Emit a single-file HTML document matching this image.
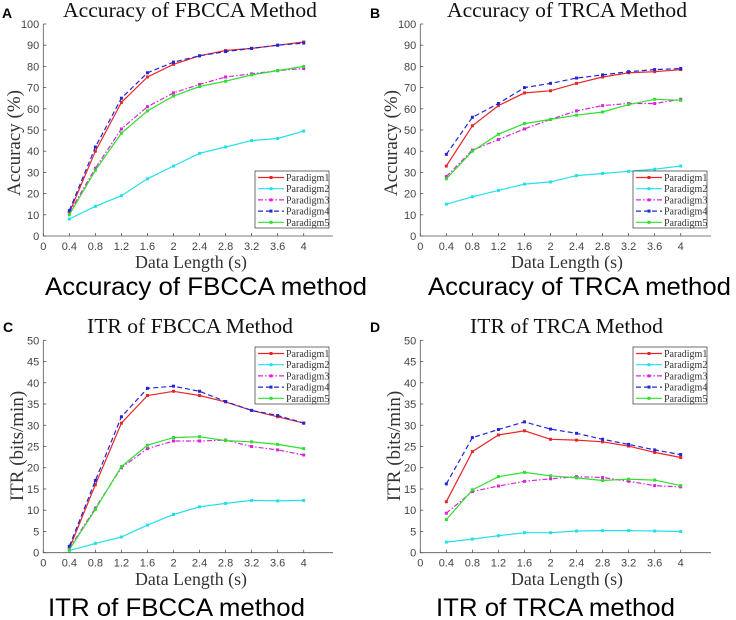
<!DOCTYPE html>
<html><head><meta charset="utf-8"><style>
html,body{margin:0;padding:0;background:#fff;}
svg{display:block;}
</style></head><body>
<svg id="fig" width="736" height="620" xmlns="http://www.w3.org/2000/svg"></svg>
<script>
const xCats = [0.4,0.8,1.2,1.6,2,2.4,2.8,3.2,3.6,4];
const xTickLabels = ['0','0.4','0.8','1.2','1.6','2','2.4','2.8','3.2','3.6','4'];
const seriesNames = ['Paradigm1','Paradigm2','Paradigm3','Paradigm4','Paradigm5'];
const accTicks = [0,10,20,30,40,50,60,70,80,90,100];
const itrTicks = [0,5,10,15,20,25,30,35,40,45,50];
const accFbP1 = [11,40,63,75,81,85,87.5,88.5,90,91.5];
const accFbP2 = [8,14,19,27,33,39,42,45,46,49.5];
const accFbP3 = [11,32,50.5,61,67.5,71.5,75,76.5,78,79];
const accFbP4 = [12,42,65,77,82,85,87,88.5,90,91];
const accFbP5 = [10,31,48.5,59,66,70.5,73,76,78,80];
const accTrP1 = [33,52,61.5,67.5,68.5,72,75,77,77.5,78.5];
const accTrP2 = [15,18.5,21.5,24.5,25.5,28.5,29.5,30.5,31.5,33];
const accTrP3 = [28,40.5,45.5,50.5,55,59,61.5,62.5,62.5,64.5];
const accTrP4 = [38.5,56,62.5,70,72,74.5,76,77.5,78.5,79];
const accTrP5 = [27,40,48,53,55,57,58.5,62,64.5,64];
const itrFbP1 = [1,16,30.5,37,38,37,35.5,33.5,32,30.5];
const itrFbP2 = [0.5,2.2,3.7,6.5,9,10.8,11.6,12.3,12.2,12.3];
const itrFbP3 = [1,10.5,20,24.5,26.3,26.3,26.5,25,24.2,23];
const itrFbP4 = [1.5,17,32,38.7,39.2,38,35.6,33.5,32.3,30.5];
const itrFbP5 = [0.7,10.2,20.3,25.3,27.1,27.3,26.4,26.1,25.5,24.5];
const itrTrP1 = [12,23.8,27.7,28.7,26.7,26.5,26.1,25.1,23.6,22.4];
const itrTrP2 = [2.5,3.2,4,4.7,4.7,5.1,5.2,5.2,5.1,5];
const itrTrP3 = [9.3,14.4,15.7,16.8,17.4,17.9,17.7,16.8,15.8,15.5];
const itrTrP4 = [16.2,27.1,29,30.8,29.1,28.1,26.7,25.5,24.2,23.1];
const itrTrP5 = [7.8,14.8,17.9,18.9,18.1,17.6,17,17.3,17.1,15.8];

const NS='http://www.w3.org/2000/svg';
const svg=document.getElementById('fig');
const colors=['#e8262a','#22e0ea','#dd22dd','#2525d8','#2ee02e'];
const dashes=['','','5,2,1.5,2','5,3',''];
function el(tag,attrs,parent){const e=document.createElementNS(NS,tag);for(const k in attrs)e.setAttribute(k,attrs[k]);(parent||svg).appendChild(e);return e;}
function txt(s,attrs,parent){const t=el('text',attrs,parent);t.textContent=s;return t;}

const panels=[
 {id:'a',letter:'A',x0:43.3,x4:303.7,xEnd:333,y0:236,yTop:24,yMax:100,ticks:accTicks,series:[accFbP1,accFbP2,accFbP3,accFbP4,accFbP5],
  title:'Accuracy of FBCCA Method',tx1:63,tx2:317,ty:17,ylab:'Accuracy (%)',ylx:14,yly:143,xlab1:135,xlab2:247,xly:268,cap:'Accuracy of FBCCA method',cx1:45,cx2:367,cy:295,leg:[255,171],lx:2,ly:12},
 {id:'b',letter:'B',x0:420.3,x4:680.7,xEnd:711,y0:236,yTop:24,yMax:100,ticks:accTicks,series:[accTrP1,accTrP2,accTrP3,accTrP4,accTrP5],
  title:'Accuracy of TRCA Method',tx1:447,tx2:687,ty:17,ylab:'Accuracy (%)',ylx:391,yly:143,xlab1:511,xlab2:623,xly:268,cap:'Accuracy of TRCA method',cx1:428,cx2:731,cy:295,leg:[633,171],lx:370,ly:12},
 {id:'c',letter:'C',x0:43.3,x4:303.7,xEnd:333,y0:552.7,yTop:340.3,yMax:50,ticks:itrTicks,series:[itrFbP1,itrFbP2,itrFbP3,itrFbP4,itrFbP5],
  title:'ITR of FBCCA Method',tx1:87,tx2:293,ty:333,ylab:'ITR (bits/min)',ylx:17,yly:446,xlab1:135,xlab2:247,xly:585,cap:'ITR of FBCCA method',cx1:48,cx2:305,cy:616,leg:[255,347],lx:3,ly:326},
 {id:'d',letter:'D',x0:420.3,x4:680.7,xEnd:711,y0:552.7,yTop:340.3,yMax:50,ticks:itrTicks,series:[itrTrP1,itrTrP2,itrTrP3,itrTrP4,itrTrP5],
  title:'ITR of TRCA Method',tx1:470,tx2:663,ty:333,ylab:'ITR (bits/min)',ylx:394,yly:446,xlab1:511,xlab2:623,xly:585,cap:'ITR of TRCA method',cx1:436,cx2:675,cy:616,leg:[633,347],lx:370,ly:326}
];

panels.forEach(p=>{
 const g=el('g',{});
 
 
 const xs=v=>p.x0+(p.x4-p.x0)*v/4;
 const ys=v=>p.y0-(p.y0-p.yTop)*v/p.yMax;
 const lab=txt(p.letter,{x:p.lx,y:p.ly+6,'font-family':'Liberation Sans, sans-serif','font-weight':'bold','font-size':14,fill:'#000'},g);
 
 const t=txt(p.title,{x:p.tx1,y:p.ty,textLength:p.tx2-p.tx1,lengthAdjust:'spacingAndGlyphs','font-family':'Liberation Serif, serif','font-size':21,fill:'#111'},g);
 
 // axes
 const ax=el('path',{d:`M${p.x0} ${p.yTop} V${p.y0} H${p.xEnd}`,stroke:'#555',fill:'none','stroke-width':0.8},g);
 
 p.ticks.forEach(v=>{
  el('line',{x1:p.x0,x2:p.x0+3,y1:ys(v),y2:ys(v),stroke:'#555','stroke-width':0.8},g);
  const tl=txt(String(v),{x:p.x0-4,y:ys(v)+4,'text-anchor':'end','font-family':'Liberation Sans, sans-serif','font-size':11,fill:'#444'},g);
  
 });
 xTickLabels.forEach((s,i)=>{
  const v=i*0.4;
  el('line',{x1:xs(v),x2:xs(v),y1:p.y0,y2:p.y0-3,stroke:'#555','stroke-width':0.8},g);
  const tl=txt(s,{x:xs(v),y:p.y0+14,'text-anchor':'middle','font-family':'Liberation Sans, sans-serif','font-size':11,fill:'#444'},g);
  
 });
 const yl=txt(p.ylab,{x:0,y:0,transform:`translate(${p.ylx+6},${p.yly}) rotate(-90)`,'text-anchor':'middle','font-family':'Liberation Serif, serif','font-size':19,fill:'#333'},g);
 
 const xl=txt('Data Length (s)',{x:p.xlab1,y:p.xly,textLength:p.xlab2-p.xlab1,lengthAdjust:'spacingAndGlyphs','font-family':'Liberation Serif, serif','font-size':18,fill:'#333'},g);
 
 // series
 p.series.forEach((vals,si)=>{
  const pts=vals.map((v,i)=>xs(xCats[i]).toFixed(1)+','+ys(v).toFixed(1)).join(' ');
  const pl=el('polyline',{points:pts,fill:'none',stroke:colors[si],'stroke-width':1.2},g);
  if(dashes[si])pl.setAttribute('stroke-dasharray',dashes[si]);
  
  
  vals.forEach((v,i)=>{
   const m=el('rect',{x:xs(xCats[i])-1.5,y:ys(v)-1.5,width:3,height:3,fill:colors[si]},g);
   
   
  });
 });
 // legend
 const [lx,ly]=p.leg;
 const lg=el('g',{},g);
 
 el('rect',{x:lx,y:ly,width:74,height:57,fill:'#fff',stroke:'#333','stroke-width':0.7},lg);
 seriesNames.forEach((n,si)=>{
  const yy=ly+6.5+si*11.2;
  const en=el('g',{},lg);
  
  const ln=el('line',{x1:lx+3,x2:lx+29,y1:yy,y2:yy,stroke:colors[si],'stroke-width':1.2},en);
  if(dashes[si])ln.setAttribute('stroke-dasharray',dashes[si]);
  el('rect',{x:lx+14.5,y:yy-1.5,width:3,height:3,fill:colors[si]},en);
  txt(n,{x:lx+31,y:yy+3.5,'font-family':'Liberation Serif, serif','font-size':10,fill:'#333'},en);
 });
 const c=txt(p.cap,{x:p.cx1,y:p.cy,textLength:p.cx2-p.cx1,lengthAdjust:'spacingAndGlyphs','font-family':'Liberation Sans, sans-serif','font-size':25,fill:'#000'},g);
 
});
</script>
</body></html>
